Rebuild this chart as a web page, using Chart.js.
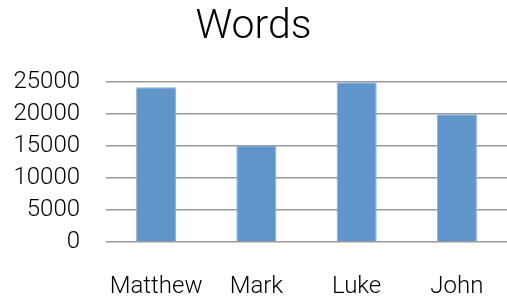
<!DOCTYPE html>
<html>
<head>
<meta charset="utf-8">
<script src="https://cdn.jsdelivr.net/npm/chart.js@4.4.1/dist/chart.umd.min.js"></script>
<style>
  html, body { margin: 0; padding: 0; background: #fff; }
  canvas { display: block; }
</style>
</head>
<body>
<canvas id="chart" width="507" height="300"></canvas>
<script>
var categories = ['Matthew', 'Mark', 'Luke', 'John'];
var words = [24200, 15100, 25000, 20000];
var yTicks = [0, 5000, 10000, 15000, 20000, 25000];

(function () {
  "use strict";

  var FONT = 'Roboto, "Liberation Sans", sans-serif';

  var ctx = document.getElementById('chart').getContext('2d');

  new Chart(ctx, {
    type: 'bar',
    data: {
      labels: categories,
      datasets: [{
        label: 'Words',
        data: words,
        backgroundColor: '#6095c9',
        borderColor: '#8eafd3',
        borderWidth: 1,
        categoryPercentage: 1,
        barPercentage: 0.4
      }]
    },
    options: {
      responsive: false,
      animation: false,
      layout: { padding: { left: 0, right: 0, top: 0, bottom: 1 } },
      plugins: {
        legend: { display: false },
        tooltip: { enabled: false },
        title: {
          display: true,
          text: 'Words',
          color: '#000',
          font: { family: FONT, size: 41, weight: 300 },
          padding: { top: 3, bottom: 30 }
        }
      },
      scales: {
        x: {
          // fixed box so the plot area matches the original layout
          afterFit: function (scale) {
            scale.height = 57;
            scale.paddingLeft = 0;
            scale.paddingRight = 0;
          },
          grid: { display: false, drawTicks: false },
          border: { display: false },
          ticks: {
            color: '#000',
            font: { family: FONT, size: 24, weight: 300 },
            padding: 31,
            maxRotation: 0,
            autoSkip: false
          }
        },
        y: {
          min: 0,
          max: 25000,
          afterFit: function (scale) {
            scale.width = 106;
            scale.paddingTop = 0;
            scale.paddingBottom = 0;
          },
          afterBuildTicks: function (scale) {
            scale.ticks = yTicks.map(function (v) { return { value: v }; });
          },
          grid: { color: '#9a9a9a', lineWidth: 1.5, drawTicks: false },
          border: { display: false },
          ticks: {
            color: '#000',
            font: { family: FONT, size: 24, weight: 300 },
            padding: 26,
            autoSkip: false,
            callback: function (v) { return String(v); }
          }
        }
      }
    }
  });
})();
</script>
</body>
</html>
